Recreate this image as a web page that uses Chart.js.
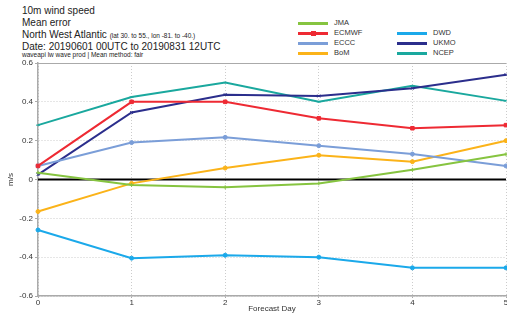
<!DOCTYPE html>
<html>
<head>
<meta charset="utf-8">
<script src="https://cdn.jsdelivr.net/npm/chart.js@4/dist/chart.umd.min.js"></script>
<style>
  body { margin: 0; overflow: hidden; background: #fff; font-family: "Liberation Sans", Arial, sans-serif; color: #222; }
  #wrap { position: absolute; left: 0; top: 0; width: 512px; height: 318px; }
  .t { position: absolute; left: 22px; white-space: nowrap; font-size: 10px; }
  .small { font-size: 6.5px; }
  .lg { position: absolute; font-size: 7.5px; white-space: nowrap; color: #333; }
  .lg .ln { position: absolute; left: 0; top: 3.5px; width: 30px; height: 3px; }
  .lg .mk { position: absolute; left: 12.5px; top: 2.5px; width: 5px; height: 5px; }
  .lg span.txt { position: absolute; left: 36px; top: 0; }
</style>
</head>
<body>
<div class="t" style="top:5px">10m wind speed</div>
<div class="t" style="top:17px">Mean error</div>
<div class="t" style="top:29px">North West Atlantic <span class="small">(lat 30. to 55., lon -81. to -40.)</span></div>
<div class="t" style="top:41px">Date: 20190601 00UTC to 20190831 12UTC</div>
<div class="t small" style="top:51px">waveapi lw wave prod | Mean method: fair</div>
<div id="legend"></div>
<div id="wrap"><canvas id="chart"></canvas></div>
<script>
  // forecast days
  const days = [0, 1, 2, 3, 4, 5]
  const yTicks = [-0.6, -0.4, -0.2, 0, 0.2, 0.4, 0.6]

  // mean error per centre (m/s)
  const jma   = [0.035, -0.028, -0.04, -0.02, 0.05, 0.13]
  const ecmwf = [0.07, 0.40, 0.40, 0.315, 0.264, 0.28]
  const eccc  = [0.07, 0.19, 0.217, 0.174, 0.131, 0.07]
  const bom   = [-0.165, -0.02, 0.059, 0.125, 0.092, 0.20]
  const dwd   = [-0.26, -0.405, -0.39, -0.40, -0.455, -0.455]
  const ukmo  = [0.025, 0.345, 0.437, 0.43, 0.47, 0.54]
  const ncep  = [0.28, 0.425, 0.50, 0.40, 0.483, 0.405]

  const series = [
    { label: 'JMA',   data: jma,   color: '#86c440', style: 'cross',   col: 0, row: 0 },
    { label: 'ECMWF', data: ecmwf, color: '#ee2a33', style: 'rect',    col: 0, row: 1 },
    { label: 'ECCC',  data: eccc,  color: '#7b9ed8', style: 'circle',  col: 0, row: 2 },
    { label: 'BoM',   data: bom,   color: '#fbb319', style: 'circle',  col: 0, row: 3 },
    { label: 'DWD',   data: dwd,   color: '#1ba9ea', style: 'circle',  col: 1, row: 1 },
    { label: 'UKMO',  data: ukmo,  color: '#2b2e8c', style: 'crossRot', col: 1, row: 2 },
    { label: 'NCEP',  data: ncep,  color: '#1aa89e', style: 'line',    col: 1, row: 3 }
  ]

  // html legend, two columns like the original
  let legendHtml = ''
  series.forEach(s => {
    const x = s.col == 0 ? 298 : 397
    const y = 18 + s.row * 10
    const mk = s.style == 'rect' ? '<div class="mk" style="background:' + s.color + '"></div>' : ''
    legendHtml += '<div class="lg" style="left:' + x + 'px;top:' + y + 'px">' +
      '<div class="ln" style="background:' + s.color + '"></div>' + mk +
      '<span class="txt">' + s.label + '</span></div>'
  })
  document.getElementById('legend').innerHTML = legendHtml

  const framePlugin = {
    id: 'frame',
    beforeDatasetsDraw(chart) {
      const ctx = chart.ctx
      const a = chart.chartArea
      const y0 = chart.scales.y.getPixelForValue(0)
      ctx.save()
      ctx.strokeStyle = '#aaa'
      ctx.lineWidth = 1
      ctx.beginPath()
      ctx.moveTo(a.left, a.top + 0.5)
      ctx.lineTo(a.right, a.top + 0.5)
      ctx.stroke()
      ctx.strokeStyle = '#000'
      ctx.lineWidth = 2
      ctx.beginPath()
      ctx.moveTo(a.left, y0)
      ctx.lineTo(a.right, y0)
      ctx.stroke()
      ctx.restore()
    }
  }

  const tickFont = { family: '"Liberation Sans", Arial, sans-serif', size: 8 }

  new Chart(document.getElementById('chart'), {
    type: 'line',
    data: {
      labels: days,
      datasets: series.map(s => ({
        label: s.label,
        data: s.data,
        borderColor: s.color,
        backgroundColor: s.color,
        borderWidth: 2,
        pointStyle: s.style,
        pointRadius: s.style == 'rect' ? 2.5 : 2,
        pointBorderWidth: 1,
        tension: 0,
        clip: false
      }))
    },
    options: {
      responsive: true,
      maintainAspectRatio: false,
      animation: false,
      layout: { padding: { top: 63, right: 6, left: 0, bottom: 0 } },
      plugins: { legend: { display: false }, tooltip: { enabled: false } },
      scales: {
        x: {
          type: 'linear',
          min: 0,
          max: 5,
          afterFit: axis => { axis.height = 22 },
          afterBuildTicks: axis => { axis.ticks = days.map(v => ({ value: v })) },
          grid: { color: '#ccc', tickLength: 2, tickColor: '#aaa', tickBorderDash: [] },
          border: { color: '#aaa', width: 1.5, dash: [1, 2] },
          ticks: { font: tickFont, color: '#333', padding: 0, maxRotation: 0 },
          title: { display: true, text: 'Forecast Day', font: tickFont, color: '#333', padding: { top: 0, bottom: 4 } }
        },
        y: {
          min: -0.6,
          max: 0.6,
          afterFit: axis => { axis.width = 38 },
          afterBuildTicks: axis => { axis.ticks = yTicks.map(v => ({ value: v })) },
          grid: { color: '#ccc', tickLength: 3, tickColor: '#aaa', tickBorderDash: [] },
          border: { color: '#aaa', width: 1.5, dash: [1, 2] },
          ticks: { font: tickFont, color: '#333', padding: 2, callback: v => String(Math.round(v * 10) / 10) },
          title: { display: true, text: 'm/s', font: tickFont, color: '#333', padding: { top: 6, bottom: 0 } }
        }
      }
    },
    plugins: [framePlugin]
  })
</script>
</body>
</html>
